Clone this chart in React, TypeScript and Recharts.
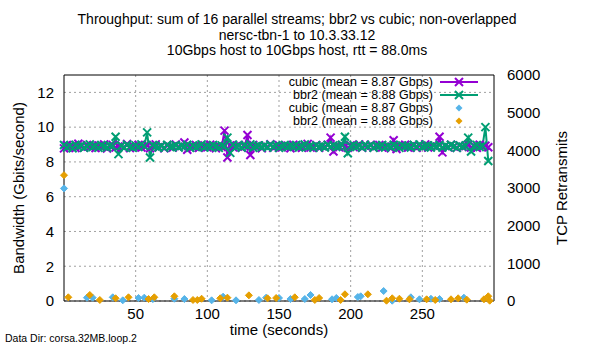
import React from 'react'
import {
  CartesianGrid,
  ComposedChart,
  Line,
  ReferenceArea,
  Scatter,
  XAxis,
  YAxis,
} from 'recharts'

const FONT = '"Liberation Sans", Arial, sans-serif'
const PURPLE = '#9400d3'
const GREEN = '#009e73'
const BLUE = '#56b4e9'
const ORANGE = '#e69f00'

// seconds, sampled every 2s
const times: number[] = Array.from({ length: 149 }, (_, i) => i * 2)

// throughput (Gbits/second), one value per sampled second
const cubicGbps = [
  8.78, 8.97, 8.84, 8.93, 8.80, 9.05, 8.88, 8.82, 8.98, 8.86,
  8.93, 8.80, 8.95, 8.84, 9.01, 8.77, 8.91, 8.98, 8.83, 8.89,
  8.95, 8.81, 9.03, 8.80, 8.93, 8.86, 8.98, 8.83, 8.91, 8.96,
  8.79, 8.89, 9.01, 8.84, 8.93, 8.78, 8.95, 8.88, 8.83, 9.00,
  8.86, 8.93, 9.12, 8.70, 8.91, 8.84, 8.97, 8.81, 8.88, 8.95,
  8.84, 8.99, 8.88, 8.79, 8.93, 8.86, 9.80, 8.25, 8.95, 8.84,
  8.91, 8.98, 8.81, 8.89, 9.55, 8.40, 8.97, 8.86, 8.93, 8.79,
  8.95, 8.86, 9.02, 8.81, 8.91, 8.96, 8.84, 8.88, 8.93, 8.79,
  8.99, 8.86, 8.91, 8.81, 8.95, 9.04, 8.83, 8.88, 8.97, 8.81,
  8.91, 8.86, 8.99, 9.40, 8.60, 8.93, 8.84, 8.97, 8.88, 8.81,
  8.95, 8.86, 8.91, 9.00, 8.81, 8.93, 8.88, 8.99, 8.83, 8.91,
  8.97, 8.83, 8.88, 8.93, 8.79, 9.25, 8.74, 8.95, 8.86, 8.99,
  8.83, 8.91, 8.97, 8.81, 8.93, 8.86, 9.01, 8.83, 8.88, 8.95,
  8.86, 9.45, 8.55, 8.93, 8.84, 8.99, 8.88, 8.81, 8.95, 8.86,
  8.91, 8.97, 8.83, 8.93, 8.81, 8.99, 8.86, 8.93, 8.84,
]

const bbr2Gbps = [
  8.97, 8.83, 8.93, 8.79, 8.99, 8.88, 8.95, 8.81, 8.91, 9.01,
  8.86, 8.93, 8.81, 8.97, 8.88, 8.83, 8.95, 8.91, 9.45, 8.45,
  8.93, 8.83, 8.99, 8.88, 8.81, 8.95, 8.86, 9.01, 8.91, 9.70,
  8.25, 8.97, 8.88, 8.83, 8.93, 8.81, 8.99, 8.86, 8.91, 8.95,
  8.83, 8.93, 8.88, 8.99, 8.81, 8.95, 8.86, 8.91, 9.01, 8.83,
  8.93, 8.86, 8.97, 8.88, 8.81, 8.95, 8.91, 9.40, 8.52, 8.99,
  8.86, 8.93, 8.83, 8.97, 8.88, 9.01, 8.81, 8.91, 8.95, 8.86,
  8.93, 8.83, 8.99, 8.88, 8.95, 8.81, 8.91, 8.97, 8.86, 8.93,
  8.88, 8.97, 8.83, 8.93, 9.01, 8.86, 8.91, 8.81, 8.95, 8.88,
  8.93, 8.83, 8.97, 8.88, 8.95, 8.86, 8.91, 8.99, 9.45, 8.50,
  8.91, 8.97, 8.86, 8.93, 8.83, 8.99, 8.88, 8.95, 8.81, 8.93,
  8.88, 8.97, 8.83, 8.93, 8.86, 8.99, 8.91, 8.81, 8.95, 8.88,
  8.93, 8.83, 8.97, 8.88, 9.01, 8.86, 8.91, 8.95, 8.83, 8.93,
  8.88, 8.97, 8.83, 8.93, 8.86, 8.99, 8.91, 8.81, 8.95, 8.88,
  8.93, 9.40, 8.60, 8.91, 8.97, 8.86, 8.93, 10.00, 8.05,
]

// TCP retransmits: [second, count]
const cubicRetrans: [number, number][] = [
  [0, 2990], [16, 88], [20, 88], [34, 98], [41, 18], [52, 80], [56, 88],
  [62, 50], [77, 60], [84, 53], [103, 18], [111, 115], [120, 18], [136, 27],
  [141, 88], [150, 80], [158, 53], [168, 53], [172, 160], [187, 45],
  [190, 80], [205, 106], [207, 125], [223, 265], [229, 8], [242, 98],
  [248, 45], [256, 60], [262, 53], [279, 88],
]

const bbr2Retrans: [number, number][] = [
  [0, 3340], [3, 98], [18, 160], [25, 27], [36, 72], [45, 98], [59, 53],
  [63, 98], [77, 125], [90, 27], [93, 27], [96, 60], [109, 72], [114, 88],
  [129, 150], [142, 72], [148, 80], [161, 98], [175, 27], [178, 80],
  [193, 27], [196, 178], [212, 178], [225, 8], [229, 72], [234, 60],
  [241, 45], [253, 45], [259, 27], [270, 45], [275, 72], [281, 35],
  [293, 45], [296, 125], [297, 8],
]

const xTicks = [50, 100, 150, 200, 250]
const leftTicks = [0, 2, 4, 6, 8, 10, 12]
const rightTicks = [0, 1000, 2000, 3000, 4000, 5000, 6000]

const titleLines = [
  'Throughput: sum of 16 parallel streams; bbr2 vs cubic; non-overlapped',
  'nersc-tbn-1 to 10.3.33.12',
  '10Gbps host to 10Gbps host, rtt = 88.0ms',
]

const legendItems = [
  { label: 'cubic (mean = 8.87 Gbps)', color: PURPLE, kind: 'line' },
  { label: 'bbr2 (mean = 8.88 Gbps)', color: GREEN, kind: 'line' },
  { label: 'cubic (mean = 8.87 Gbps)', color: BLUE, kind: 'point' },
  { label: 'bbr2 (mean = 8.88 Gbps)', color: ORANGE, kind: 'point' },
]

const rows = times.map((t, i) => ({ t, cubic: cubicGbps[i], bbr2: bbr2Gbps[i] }))
const cubicRetransData = cubicRetrans.map(([t, r]) => ({ t, r }))
const bbr2RetransData = bbr2Retrans.map(([t, r]) => ({ t, r }))

function crossPath(cx: number, cy: number, s = 4) {
  return `M${cx - s},${cy - s}L${cx + s},${cy + s}M${cx - s},${cy + s}L${cx + s},${cy - s}`
}

function diamondPoints(cx: number, cy: number, s = 3.5) {
  return `${cx},${cy - s} ${cx + s},${cy} ${cx},${cy + s} ${cx - s},${cy}`
}

const crossDot = (color: string) => (props: any) => {
  const { cx, cy, index } = props
  if (cx == null || cy == null) return <g key={index} />
  return <path key={index} d={crossPath(cx, cy)} stroke={color} strokeWidth={2} fill="none" />
}

const diamond = (color: string) => (props: any) => {
  const { cx, cy } = props
  return <polygon points={diamondPoints(cx, cy)} fill={color} stroke={color} strokeWidth={1} />
}

const tickStyle = { fontSize: 15, fill: '#000', fontFamily: FONT }

export default function App() {
  return (
    <div style={{ position: 'absolute', left: 0, top: 0, width: 600, height: 350, background: '#fff' }}>
      <ComposedChart
        width={600}
        height={350}
        data={rows}
        margin={{ top: 75, right: 0, bottom: 0, left: 0 }}
      >
        <CartesianGrid
          yAxisId="left"
          stroke="#a0a0a0"
          strokeDasharray="2 3"
          horizontalValues={leftTicks}
          verticalValues={xTicks}
        />
        <XAxis
          dataKey="t"
          type="number"
          domain={[0, 300]}
          ticks={xTicks}
          height={49}
          axisLine={false}
          tickLine={false}
          tickMargin={1}
          tick={tickStyle}
          allowDuplicatedCategory={false}
        />
        <YAxis
          yAxisId="left"
          type="number"
          domain={[0, 13]}
          ticks={leftTicks}
          width={64}
          axisLine={false}
          tickLine={false}
          tickMargin={4}
          tick={tickStyle}
        />
        <YAxis
          yAxisId="right"
          orientation="right"
          type="number"
          domain={[0, 6000]}
          ticks={rightTicks}
          width={106}
          axisLine={false}
          tickLine={false}
          tickMargin={7}
          tick={tickStyle}
        />
        <Line
          yAxisId="left"
          dataKey="cubic"
          stroke={PURPLE}
          strokeWidth={2}
          dot={crossDot(PURPLE)}
          isAnimationActive={false}
        />
        <Line
          yAxisId="left"
          dataKey="bbr2"
          stroke={GREEN}
          strokeWidth={2}
          dot={crossDot(GREEN)}
          isAnimationActive={false}
        />
        <Scatter
          yAxisId="right"
          data={cubicRetransData}
          dataKey="r"
          shape={diamond(BLUE)}
          isAnimationActive={false}
        />
        <Scatter
          yAxisId="right"
          data={bbr2RetransData}
          dataKey="r"
          shape={diamond(ORANGE)}
          isAnimationActive={false}
        />
        <ReferenceArea
          yAxisId="left"
          x1={0}
          x2={300}
          y1={0}
          y2={13}
          fill="none"
          stroke="#000"
          strokeWidth={1}
        />
      </ComposedChart>

      <svg
        width={600}
        height={350}
        style={{ position: 'absolute', left: 0, top: 0, pointerEvents: 'none' }}
        fontFamily={FONT}
      >
        {titleLines.map((line, i) => (
          <text key={i} x={297} y={24 + i * 15.7} textAnchor="middle" fontSize={14}>
            {line}
          </text>
        ))}
        {legendItems.map((item, i) => {
          const y = 82 + i * 13
          return (
            <g key={i}>
              <text x={433} y={y} textAnchor="end" dominantBaseline="central" fontSize={12.5}>
                {item.label}
              </text>
              {item.kind === 'line' ? (
                <>
                  <line x1={440} x2={478} y1={y} y2={y} stroke={item.color} strokeWidth={2} />
                  <path d={crossPath(459, y)} stroke={item.color} strokeWidth={2} />
                </>
              ) : (
                <polygon points={diamondPoints(459, y)} fill={item.color} />
              )}
            </g>
          )
        })}
        <text
          transform="translate(24,188) rotate(-90)"
          textAnchor="middle"
          fontSize={15}
        >
          Bandwidth (Gbits/second)
        </text>
        <text
          transform="translate(567,188) rotate(-90)"
          textAnchor="middle"
          fontSize={15}
        >
          TCP Retransmits
        </text>
        <text x={279} y={335} textAnchor="middle" fontSize={15}>
          time (seconds)
        </text>
        <text x={5} y={342} fontSize={10.5}>
          Data Dir: corsa.32MB.loop.2
        </text>
      </svg>
    </div>
  )
}
